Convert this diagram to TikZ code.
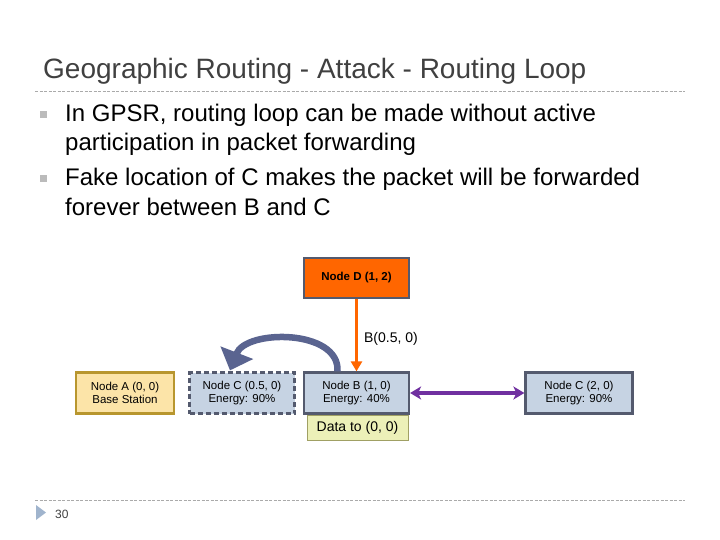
\documentclass[tikz,border=0pt]{standalone}
\usepackage{fontspec}
\setmainfont{Liberation Sans}
\usetikzlibrary{arrows.meta}
\definecolor{titlegray}{RGB}{64,64,64}
\definecolor{rulegray}{RGB}{170,170,170}
\definecolor{dorange}{RGB}{255,102,0}
\definecolor{nodeedge}{RGB}{84,90,110}
\definecolor{nodefill}{RGB}{198,211,227}
\definecolor{afill}{RGB}{252,228,168}
\definecolor{aedge}{RGB}{184,150,46}
\definecolor{datafill}{RGB}{236,240,184}
\definecolor{dataedge}{RGB}{160,160,100}
\definecolor{loopblue}{RGB}{90,100,144}
\definecolor{linkpurple}{RGB}{112,48,160}
\definecolor{footblue}{RGB}{160,180,205}

\tikzset{
  netnode/.style={draw=nodeedge,fill=nodefill,line width=2.2pt,minimum width=105pt,minimum height=41pt,align=center,font=\fontsize{11.5}{13.5}\selectfont},
  fakenode/.style={netnode,dashed,dash pattern=on 5pt off 3pt},
  bullettext/.style={anchor=base west,inner sep=0,font=\fontsize{24}{29}\selectfont},
}

\begin{document}
\begin{tikzpicture}[x=1pt,y=1pt,yscale=-1]
		\useasboundingbox (0,0) rectangle (720,540);
		% title and rules
		\node[anchor=base west,text=titlegray,font=\fontsize{28}{32}\selectfont,inner sep=0] (title) at (43,79) {Geographic Routing - Attack - Routing Loop};
		\draw[rulegray,dashed,dash pattern=on 3pt off 1.5pt] (35,91) -- (685,91);
		\draw[rulegray,dashed,dash pattern=on 3pt off 1.5pt] (35,500) -- (685,500);
		
		% bullets
		\foreach \yy in {115,179} {
			\fill[rulegray!80] (40,\yy-3.5) rectangle (47,\yy+3.5);
		}
		\node[bullettext] (b1a) at (65,122) {In GPSR, routing loop can be made without active};
		\node[bullettext] (b1b) at (65,151) {participation in packet forwarding};
		\node[bullettext] (b2a) at (65,186) {Fake location of C makes the packet will be forwarded};
		\node[bullettext] (b2b) at (65,215) {forever between B and C};
		
		% nodes
		\node[netnode,fill=dorange,minimum height=40pt,font=\fontsize{11.5}{13.5}\selectfont\bfseries] (nd) at (356.5,278) {Node D (1, 2)};
		\node[netnode,draw=aedge,fill=afill,minimum width=98pt] (na) at (125,393) {Node A (0, 0)\\Base Station};
		\node[fakenode] (nc) at (242,393) {Node C (0.5, 0)\\Energy: 90\%};
		\node[netnode] (nb) at (356.5,393) {Node B (1, 0)\\Energy: 40\%};
		\node[netnode,minimum width=107pt] (nc2) at (579,393) {Node C (2, 0)\\Energy: 90\%};
		\node[draw=dataedge,fill=datafill,line width=0.8pt,minimum width=101pt,minimum height=25pt,font=\fontsize{14}{16}\selectfont,anchor=north] (data) at (357.5,414.5) {Data to (0, 0)};
		
		% connectors
		\draw[dorange,line width=2.5pt,-{Triangle[length=10pt,width=11pt]}] (nd.south) -- (nb.north) node[pos=0.55,right=3pt,text=black,font=\fontsize{14}{16}\selectfont] (bl) {B(0.5, 0)};
		\draw[linkpurple,line width=3.5pt,{Stealth[length=11pt,width=13pt,inset=3pt]}-{Stealth[length=11pt,width=13pt,inset=3pt]}] (nb.east) -- (nc2.west);
		\draw[loopblue,line width=6.5pt,-{Triangle[length=19pt,width=34pt]}] ([xshift=-19pt]nb.north) .. controls (340,329) and (246,329) .. ([xshift=-12pt,yshift=-1pt]nc.north);
		
		% footer
		\fill[footblue] (36,505) -- (46,512.5) -- (36,520) -- cycle;
		\node[anchor=base west,inner sep=0,font=\fontsize{12}{14}\selectfont,text=titlegray] (pg) at (55,518) {30};
		\end{tikzpicture}
\end{document}
